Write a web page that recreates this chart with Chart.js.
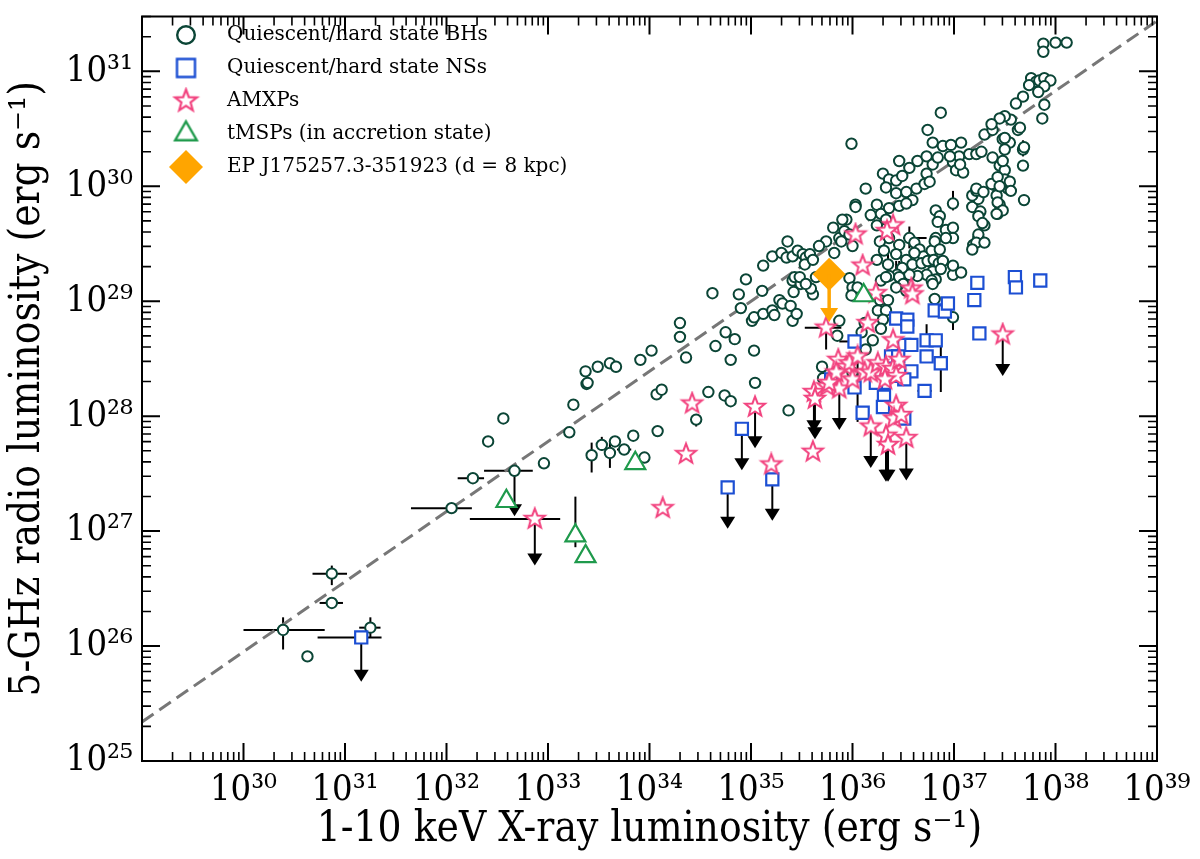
<!DOCTYPE html>
<html>
<head>
<meta charset="utf-8">
<title>Radio / X-ray luminosity plane</title>
<script src="https://cdn.jsdelivr.net/npm/chart.js@4.4.1/dist/chart.umd.min.js"></script>
<style>
  html, body { margin: 0; padding: 0; background: #fff; }
</style>
</head>
<body>
<canvas id="lrlx" width="1200" height="859"></canvas>
<script>
// all values are log10 luminosities (erg/s): [Lx, Lr]
const bhData = [
  [30.39,26.14],[30.63,25.91],[30.87,26.63],[30.87,26.375],[31.25,26.16],
  [32.05,27.20],[32.26,27.46],[32.41,27.78],[32.56,27.98],[32.67,27.525],
  [32.96,27.59],[33.21,27.86],[33.25,28.10],[33.38,28.28],[33.43,27.66],
  [33.53,27.75],[33.61,27.68],[33.66,27.78],[33.75,27.71],[33.84,27.83],
  [33.95,27.64],[34.08,27.87],[34.07,28.19],[34.12,28.23],[34.46,27.97],
  [33.37,28.39],[33.39,28.29],[33.49,28.43],[33.61,28.46],[33.67,28.43],
  [33.91,28.49],[34.02,28.57],[34.30,28.81],[34.30,28.69],[34.36,28.51],
  [34.58,28.21],[34.62,29.07],[34.65,28.61],[34.74,28.18],[34.80,28.13],
  [34.75,28.73],[34.84,28.67],[34.80,28.49],[34.88,29.06],[34.90,28.94],
  [34.95,29.19],[35.03,28.57],[35.04,28.29],[35.01,28.83],[35.03,28.86],
  [35.11,29.09],[35.12,29.31],[35.12,28.89],[35.21,28.92],[35.23,28.88],
  [35.21,29.39],[35.30,29.42],[35.36,29.52],[35.35,29.38],[35.41,29.39],
  [35.46,29.44],[35.51,29.41],[35.54,29.38],[35.58,29.41],[35.53,29.32],
  [35.28,29.01],[35.31,28.98],[35.39,28.96],[35.41,28.83],[35.45,28.89],
  [35.37,28.05],[35.41,29.18],[35.43,29.21],[35.49,29.15],[35.42,29.08],
  [35.61,29.06],[35.59,29.11],[35.64,29.21],[35.74,29.52],[35.81,29.64],
  [35.87,29.55],[35.94,29.71],[36.03,29.84],[36.00,29.48],[35.92,29.61],
  [35.70,28.43],[35.71,28.33],[35.84,28.38],[35.87,28.83],[35.97,29.20],
  [36.00,29.12],
  [35.99,30.37],[36.74,30.49],[36.79,30.38],[36.89,30.35],[36.97,30.36],
  [37.07,30.38],[37.30,30.45],[37.38,30.49],[37.48,30.41],[37.55,30.38],
  [37.63,30.49],[37.68,30.32],[36.46,30.22],[36.56,30.16],[36.64,30.22],
  [36.73,30.26],[36.79,30.19],[36.84,30.25],[36.99,30.21],[37.05,30.26],
  [37.02,30.14],[37.09,30.12],[37.15,30.28],[37.22,30.28],[37.27,30.30],
  [37.38,30.25],[37.45,30.18],[37.50,30.14],[37.47,30.04],[37.40,30.01],
  [37.53,29.98],[37.51,30.04],[37.68,30.18],[37.69,29.88],
  [36.30,30.11],[36.36,30.06],[36.43,30.05],[36.49,30.09],[36.33,29.99],
  [36.43,29.94],[36.53,29.95],[36.63,29.98],[36.71,30.02],[36.73,30.11],
  [36.59,29.88],[36.13,29.98],[36.24,29.84],[36.03,29.82],[36.18,29.75],
  [36.28,29.76],[36.36,29.81],[36.46,29.83],[36.53,29.85],[36.33,29.71],
  [36.82,29.79],[36.86,29.74],[36.84,29.69],[36.99,29.85],[36.92,29.62],
  [36.99,29.55],[36.82,29.55],[37.18,29.82],[37.24,29.89],[37.26,29.78],
  [37.18,29.92],[37.22,29.96],[37.30,29.66],[37.24,29.55],[37.19,29.49],
  [37.43,29.76],[37.45,29.84],[37.42,29.92],
  [35.90,29.71],[35.89,29.52],[35.97,29.58],[35.82,29.42],[35.67,29.48],
  [36.24,29.66],[36.27,29.52],[36.36,29.55],[36.46,29.49],[36.31,29.44],
  [36.35,29.32],[36.24,29.36],[36.43,29.41],[36.56,29.55],[36.61,29.51],
  [36.66,29.45],[36.70,29.39],[36.78,29.44],[36.61,29.42],[36.53,29.36],
  [36.59,29.32],[36.68,29.33],[36.74,29.35],[36.80,29.36],[36.85,29.33],
  [36.79,29.26],[36.73,29.23],[36.64,29.22],[36.56,29.23],[36.49,29.29],
  [36.44,29.23],[36.36,29.22],[36.82,29.19],[36.78,29.18],[36.99,29.23],
  [37.07,29.25],[36.99,29.31],[35.61,29.36],[35.48,29.21],[35.54,29.15],
  [36.05,29.12],[35.99,29.05],[36.28,29.18],[36.33,29.21],[36.27,29.01],
  [36.35,29.01],[36.25,28.92],[36.33,28.92],[36.30,28.84],[36.46,29.21],
  [36.50,29.15],[36.53,29.09],[36.43,29.12],[36.81,29.02],[36.99,28.86],
  [36.12,28.81],[36.09,28.73],[36.28,28.76],[36.20,28.66],[36.13,28.58],
  [35.85,28.70],[36.00,28.38],
  [37.88,31.24],[37.88,31.17],[38.00,31.25],[38.11,31.25],[37.76,30.94],
  [37.81,30.91],[37.74,30.88],[37.84,30.92],[37.89,30.94],[37.95,30.92],
  [37.89,30.87],[37.83,30.82],[37.89,30.71],[37.87,30.59],[37.68,30.78],
  [37.61,30.72],[37.65,30.51],[37.56,30.58],[37.50,30.61],[37.45,30.59],
  [37.37,30.54],[36.87,30.64],[37.50,30.42],[37.50,30.32],[37.69,30.34],
  [37.48,30.22],[37.50,30.06],[37.55,30.04],[37.56,29.96],[37.37,30.02],
  [37.43,30.08],[37.45,30.00],[37.43,29.86],[37.48,29.79],[37.42,29.76],
  [36.96,30.26],[37.06,30.19],[36.76,30.04],[37.22,29.98],[37.29,29.95],
  [37.24,29.74],[37.28,29.68],[37.24,29.58],[37.22,29.51],[37.30,29.51],
  [37.18,29.45],[36.99,29.64],[36.92,29.55],[36.81,29.52],[36.86,29.45],
  [36.89,29.35],[36.87,29.28],[36.79,29.15]
];

const nsData = [
  [31.16,26.075],[34.91,27.89],[34.77,27.38],[35.21,27.45],[36.02,28.65],
  [35.79,28.32],[36.02,28.25],[36.43,28.85],[36.54,28.84],[36.54,28.78],
  [36.81,28.92],[36.91,28.91],[36.94,28.98],[36.73,28.66],[36.82,28.66],
  [36.73,28.52],[36.87,28.46],[36.51,28.62],[36.58,28.62],[36.38,28.52],
  [36.45,28.52],[36.58,28.39],[36.51,28.32],[37.20,29.01],[37.23,29.16],
  [37.25,28.72],[37.60,29.21],[37.61,29.12],[37.85,29.18],[36.31,28.29],
  [36.38,28.35],[36.23,28.29],[36.31,28.17],[36.30,28.08],[36.10,28.03],
  [36.51,27.98],[36.71,28.22]
];

const amxpData = [
  [32.87,27.105],[34.13,27.20],[34.36,27.67],[34.42,28.11],[35.04,28.08],
  [35.20,27.58],[35.61,27.69],[35.62,28.21],[35.63,28.15],[35.74,28.77],
  [35.75,28.26],[35.86,28.49],[35.94,28.43],[35.87,28.24],[36.00,28.32],
  [36.03,29.58],[36.40,29.66],[36.34,29.61],[36.10,29.31],[36.23,29.07],
  [36.58,29.11],[36.59,29.06],[36.15,28.81],[36.40,28.66],[35.97,28.46],
  [36.05,28.52],[35.84,28.38],[35.77,28.29],[36.12,28.38],[36.18,28.38],
  [36.25,28.46],[36.33,28.43],[36.40,28.41],[36.46,28.49],[36.43,28.35],
  [36.32,28.32],[36.18,27.91],[36.33,27.83],[36.35,27.75],[36.53,27.81],
  [36.43,28.09],[36.41,27.98],[36.48,28.01],[37.48,28.71]
];

const tmspData = [[32.59,27.26],[33.27,26.96],[33.37,26.78],[33.86,27.59],[36.11,29.05]];

const epData = [[35.77,29.235]];
const epLimit = [[35.77,29.235,28.82]];

// error bars: [Lx, Lr, low, high]
const xErrors = [
  [30.39,26.14,30.00,30.80],[30.87,26.63,30.68,31.02],[30.87,26.375,30.75,30.98],
  [31.25,26.16,31.14,31.35],[32.05,27.20,31.65,32.25],[32.26,27.46,32.11,32.37],
  [32.67,27.525,32.37,32.85],[33.66,27.78,33.60,33.72],[33.75,27.71,33.68,33.82],
  [36.56,29.55,36.50,36.73],[31.16,26.075,30.73,31.36],[36.02,28.65,35.87,36.02],
  [36.71,28.22,36.64,36.78],[37.20,29.01,37.15,37.25],[37.23,29.16,37.17,37.27],
  [32.87,27.105,32.23,33.12],[35.74,28.77,35.53,35.89],[33.27,26.96,33.20,33.27]
];
const yErrors = [
  [30.39,26.14,25.97,26.25],[30.87,26.63,26.53,26.70],[31.25,26.16,26.07,26.25],
  [33.43,27.66,27.51,27.77],[33.53,27.75,27.70,27.82],[33.61,27.68,27.55,27.77],
  [34.46,27.97,27.91,28.00],[36.99,29.85,29.79,29.96],[36.56,29.55,29.46,29.65],
  [36.35,29.32,29.29,29.45],[36.43,29.12,29.12,29.35],[36.46,29.21,29.15,29.35],
  [36.27,29.52,29.35,29.55],[37.68,30.32,30.26,30.40],[37.42,29.92,29.78,29.92],
  [36.99,28.86,28.75,28.86],[36.87,28.46,28.21,28.62],[36.71,28.22,28.17,28.28],
  [37.20,29.01,28.95,29.07],[36.73,28.66,28.66,28.80],[36.05,28.52,27.95,28.52],
  [35.74,28.77,28.58,28.77],[33.27,26.96,26.86,27.30]
];

// upper limits: [Lx, Lr, arrow tip]
const upperLimits = [
  [32.67,27.525,27.13],
  [31.16,26.075,25.69],[34.91,27.89,27.53],[34.77,27.38,27.02],[35.21,27.45,27.09],
  [32.87,27.105,26.70],[35.04,28.08,27.72],[35.62,28.21,27.86],[35.63,28.15,27.80],
  [35.87,28.24,27.88],[36.18,27.91,27.55],[36.33,27.83,27.43],[36.35,27.75,27.43],
  [36.53,27.81,27.44],[37.48,28.71,28.35]
];

// dashed correlation line end points
const fitLx = [29, 39];
const fitLr = [25.34, 31.44];

const xTickExps = [30, 31, 32, 33, 34, 35, 36, 37, 38, 39];
const yTickExps = [25, 26, 27, 28, 29, 30, 31];

const legendNames = [
  'Quiescent/hard state BHs',
  'Quiescent/hard state NSs',
  'AMXPs',
  'tMSPs (in accretion state)',
  'EP J175257.3-351923 (d = 8 kpc)'
];

const BH_COLOR = '#0b4536';
const NS_COLOR = '#1c4fd3';
const AMXP_COLOR = '#f2437f';
const TMSP_COLOR = '#1f9a4c';
const EP_COLOR = '#ffa500';
const SERIF = "'DejaVu Serif', serif";
const SERIF_COND = "'DejaVu Serif Condensed', 'DejaVu Serif', serif";

const SUP = { '0': '⁰', '1': '¹', '2': '²', '3': '³', '4': '⁴', '5': '⁵', '6': '⁶', '7': '⁷', '8': '⁸', '9': '⁹' };
function powLabel(v) {
  const e = Math.round(Math.log10(v));
  return '10' + String(e).split('').map(d => SUP[d]).join('');
}

function toPoints(arr) {
  return arr.map(p => ({ x: Math.pow(10, p[0]), y: Math.pow(10, p[1]) }));
}

// marker images
function iconCanvas(size, draw) {
  const c = document.createElement('canvas');
  c.width = size;
  c.height = size;
  draw(c.getContext('2d'), size / 2);
  return c;
}
function circleIcon(r, lw, color) {
  return iconCanvas(Math.ceil(2 * r + lw + 2), (g, m) => {
    g.beginPath();
    g.arc(m, m, r, 0, Math.PI * 2);
    g.fillStyle = '#fff';
    g.fill();
    g.lineWidth = lw;
    g.strokeStyle = color;
    g.stroke();
  });
}
function squareIcon(h, lw, color) {
  return iconCanvas(Math.ceil(2 * h + lw + 2), (g, m) => {
    g.beginPath();
    g.rect(m - h, m - h, 2 * h, 2 * h);
    g.fillStyle = '#fff';
    g.fill();
    g.lineWidth = lw;
    g.strokeStyle = color;
    g.stroke();
  });
}
function starIcon(r, lw, color) {
  return iconCanvas(Math.ceil(2 * r + lw + 3), (g, m) => {
    g.beginPath();
    for (let i = 0; i < 10; i++) {
      const rr = i % 2 ? r * 0.42 : r;
      const a = -Math.PI / 2 + i * Math.PI / 5;
      g.lineTo(m + rr * Math.cos(a), m + rr * Math.sin(a));
    }
    g.closePath();
    g.fillStyle = '#fff';
    g.fill();
    g.lineWidth = lw;
    g.strokeStyle = color;
    g.stroke();
  });
}
function triangleIcon(r, lw, color) {
  return iconCanvas(Math.ceil(2 * r + lw + 3), (g, m) => {
    g.beginPath();
    g.moveTo(m, m - r);
    g.lineTo(m + 0.866 * r, m + 0.5 * r);
    g.lineTo(m - 0.866 * r, m + 0.5 * r);
    g.closePath();
    g.fillStyle = '#fff';
    g.fill();
    g.lineWidth = lw;
    g.strokeStyle = color;
    g.stroke();
  });
}
function diamondIcon(r, color) {
  return iconCanvas(Math.ceil(2 * r + 2), (g, m) => {
    g.beginPath();
    g.moveTo(m, m - r);
    g.lineTo(m + r, m);
    g.lineTo(m, m + r);
    g.lineTo(m - r, m);
    g.closePath();
    g.fillStyle = color;
    g.fill();
  });
}

const starMarker = starIcon(10.5, 2, AMXP_COLOR);
const legendIcons = [
  circleIcon(8.8, 2.4, BH_COLOR),
  squareIcon(9, 2.4, NS_COLOR),
  starIcon(11.5, 2.2, AMXP_COLOR),
  triangleIcon(12.5, 2.4, TMSP_COLOR),
  diamondIcon(17, EP_COLOR)
];

// error bars, upper limit arrows, frame and inward ticks
function arrowDown(ctx, x, y0, y1, color, lw, hw, hl) {
  ctx.strokeStyle = color;
  ctx.fillStyle = color;
  ctx.lineWidth = lw;
  ctx.beginPath();
  ctx.moveTo(x, y0);
  ctx.lineTo(x, y1 - hl + 1);
  ctx.stroke();
  ctx.beginPath();
  ctx.moveTo(x - hw / 2, y1 - hl);
  ctx.lineTo(x + hw / 2, y1 - hl);
  ctx.lineTo(x, y1);
  ctx.closePath();
  ctx.fill();
}

const errorPlugin = {
  id: 'errorMarks',
  beforeDatasetsDraw(chart) {
    const ctx = chart.ctx;
    const xs = chart.scales.x, ys = chart.scales.y;
    const px = v => xs.getPixelForValue(Math.pow(10, v));
    const py = v => ys.getPixelForValue(Math.pow(10, v));
    ctx.save();
    ctx.strokeStyle = '#000';
    ctx.lineWidth = 2;
    xErrors.forEach(e => {
      ctx.beginPath();
      ctx.moveTo(px(e[2]), py(e[1]));
      ctx.lineTo(px(e[3]), py(e[1]));
      ctx.stroke();
    });
    yErrors.forEach(e => {
      ctx.beginPath();
      ctx.moveTo(px(e[0]), py(e[2]));
      ctx.lineTo(px(e[0]), py(e[3]));
      ctx.stroke();
    });
    upperLimits.forEach(u => arrowDown(ctx, px(u[0]), py(u[1]), py(u[2]), '#000', 2, 15, 12));
    ctx.restore();
  },
  afterDatasetsDraw(chart) {
    const ctx = chart.ctx;
    const xs = chart.scales.x, ys = chart.scales.y;
    ctx.save();
    epLimit.forEach(u => {
      const x = xs.getPixelForValue(Math.pow(10, u[0]));
      arrowDown(ctx, x, ys.getPixelForValue(Math.pow(10, u[1])),
        ys.getPixelForValue(Math.pow(10, u[2])), EP_COLOR, 3.5, 18, 14);
    });
    ctx.restore();
  }
};

const framePlugin = {
  id: 'frameTicks',
  afterDraw(chart) {
    const ctx = chart.ctx;
    const a = chart.chartArea;
    const xs = chart.scales.x, ys = chart.scales.y;
    ctx.save();
    ctx.strokeStyle = '#000';
    function tickSet(scale, isX, exps0, exps1, maxVal) {
      for (let e = exps0; e <= exps1; e++) {
        for (let k = 1; k <= 9; k++) {
          const v = k * Math.pow(10, e);
          if (v < scale.min * 0.999 || v > maxVal * 1.001) continue;
          const p = scale.getPixelForValue(v);
          const len = k === 1 ? 18 : 9;
          ctx.lineWidth = k === 1 ? 2 : 1.6;
          ctx.beginPath();
          if (isX) {
            ctx.moveTo(p, a.bottom); ctx.lineTo(p, a.bottom - len);
            ctx.moveTo(p, a.top); ctx.lineTo(p, a.top + len);
          } else {
            ctx.moveTo(a.left, p); ctx.lineTo(a.left + len, p);
            ctx.moveTo(a.right, p); ctx.lineTo(a.right - len, p);
          }
          ctx.stroke();
        }
      }
    }
    tickSet(xs, true, 29, 39, xs.max);
    tickSet(ys, false, 25, 31, ys.max);
    ctx.lineWidth = 2;
    ctx.strokeRect(a.left, a.top, a.right - a.left, a.bottom - a.top);
    ctx.restore();
  }
};

const datasets = [
  {
    label: legendNames[4], data: toPoints(epData), order: 0,
    pointStyle: 'rectRot', pointRadius: 16.5, pointHoverRadius: 16.5,
    backgroundColor: EP_COLOR, borderColor: EP_COLOR, borderWidth: 0
  },
  {
    label: legendNames[3], data: toPoints(tmspData), order: 1,
    pointStyle: 'triangle', pointRadius: 11.5, pointHoverRadius: 11.5,
    backgroundColor: '#fff', borderColor: TMSP_COLOR, borderWidth: 2.2
  },
  {
    label: legendNames[2], data: toPoints(amxpData), order: 2,
    pointStyle: starMarker, pointRadius: 10, pointHoverRadius: 10
  },
  {
    label: legendNames[1], data: toPoints(nsData), order: 3,
    pointStyle: 'rect', pointRadius: 8.6, pointHoverRadius: 8.6,
    backgroundColor: '#fff', borderColor: NS_COLOR, borderWidth: 2.2
  },
  {
    label: legendNames[0], data: toPoints(bhData), order: 4,
    pointStyle: 'circle', pointRadius: 5.2, pointHoverRadius: 5.2,
    backgroundColor: '#fff', borderColor: BH_COLOR, borderWidth: 2
  },
  {
    label: 'fit', type: 'line', order: 5, showLine: true,
    data: fitLx.map((v, i) => ({ x: Math.pow(10, v), y: Math.pow(10, fitLr[i]) })),
    borderColor: '#777', borderWidth: 3, borderDash: [14, 7], pointRadius: 0, fill: false
  }
];

new Chart(document.getElementById('lrlx').getContext('2d'), {
  type: 'scatter',
  data: { datasets: datasets },
  plugins: [errorPlugin, framePlugin],
  options: {
    responsive: false,
    animation: false,
    layout: { padding: { top: 5, right: 43, left: 0, bottom: 0 } },
    plugins: {
      tooltip: { enabled: false },
      legend: {
        position: 'chartArea',
        align: 'start',
        title: { display: true, text: ' ', font: { size: 6 }, padding: 2.4 },
        labels: {
          usePointStyle: true,
          pointStyleWidth: 62,
          padding: 13,
          color: '#000',
          font: { family: SERIF, size: 20 },
          generateLabels: () => legendNames.map((t, i) => ({
            text: t,
            pointStyle: legendIcons[i],
            fontColor: '#000',
            fillStyle: 'rgba(0,0,0,0)',
            strokeStyle: 'rgba(0,0,0,0)',
            lineWidth: 0,
            hidden: false,
            datasetIndex: 4 - i
          }))
        }
      }
    },
    scales: {
      x: {
        type: 'logarithmic',
        min: 1e29,
        max: 1e39,
        afterBuildTicks: s => { s.ticks = xTickExps.map(e => ({ value: Math.pow(10, e) })); },
        afterFit: s => { s.height = 98; s.paddingLeft = 0; s.paddingRight = 0; },
        grid: { display: false, drawTicks: false },
        border: { display: false },
        ticks: {
          callback: v => powLabel(v),
          autoSkip: false, maxRotation: 0, padding: 8,
          color: '#000',
          font: { family: SERIF_COND, size: 36 }
        },
        title: {
          display: true,
          text: '1-10 keV X-ray luminosity (erg s⁻¹)',
          color: '#000',
          font: { family: SERIF_COND, size: 42 },
          padding: { top: 0, bottom: 4 }
        }
      },
      y: {
        type: 'logarithmic',
        min: 1e25,
        max: 3e31,
        afterBuildTicks: s => { s.ticks = yTickExps.map(e => ({ value: Math.pow(10, e) })); },
        afterFit: s => { s.width = 142; s.paddingTop = 0; s.paddingBottom = 0; },
        grid: { display: false, drawTicks: false },
        border: { display: false },
        ticks: {
          callback: v => powLabel(v),
          autoSkip: false, padding: 9,
          color: '#000',
          font: { family: SERIF_COND, size: 36 }
        },
        title: {
          display: true,
          text: '5-GHz radio luminosity (erg s⁻¹)',
          color: '#000',
          font: { family: SERIF_COND, size: 42 },
          padding: { top: 3, bottom: 0 }
        }
      }
    }
  }
});
</script>
</body>
</html>
